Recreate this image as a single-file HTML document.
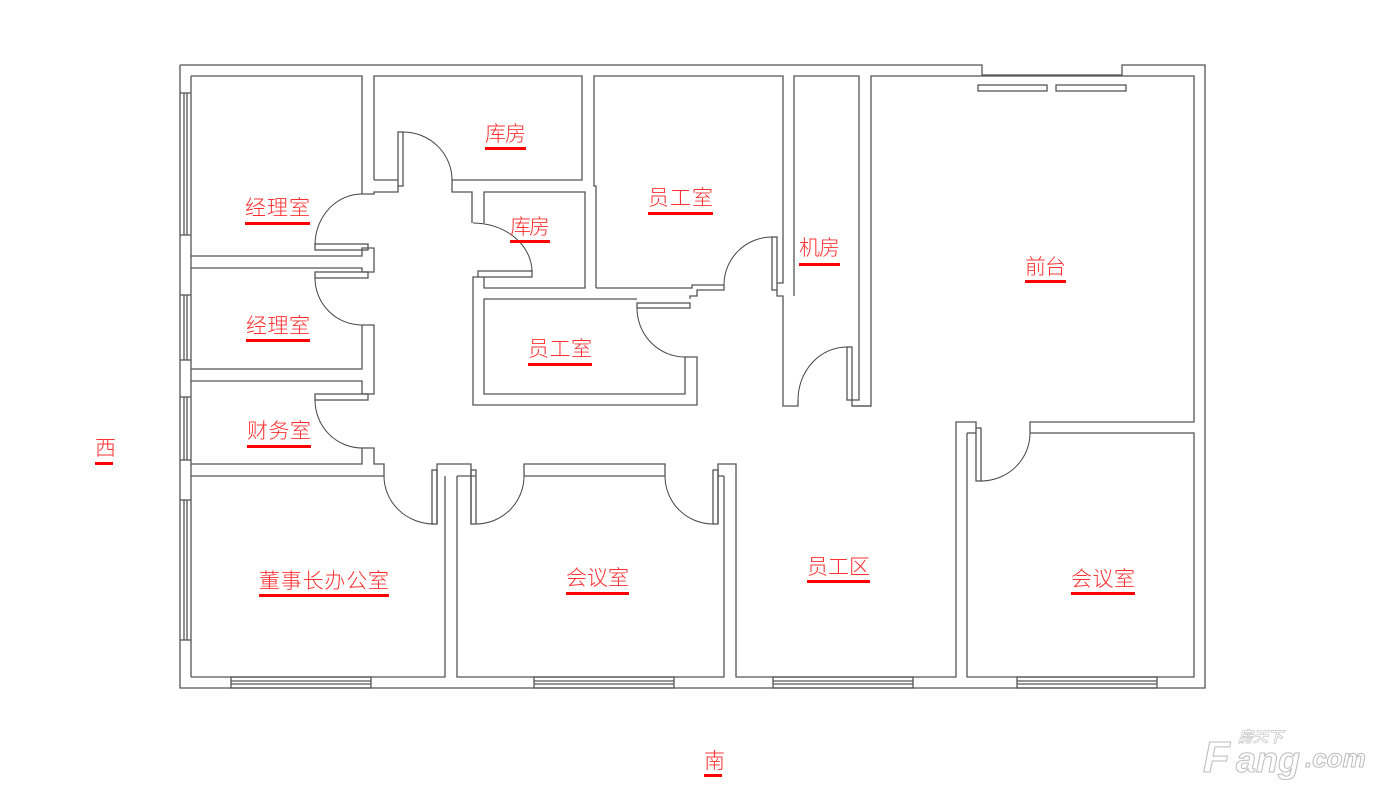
<!DOCTYPE html>
<html><head><meta charset="utf-8"><style>
html,body{margin:0;padding:0;background:#fff;}
svg{display:block;}
.w{fill:none;stroke:#555;stroke-width:1.3;}
.a{fill:none;stroke:#444;stroke-width:1;}
.t{font-family:"Liberation Sans","Noto Sans CJK SC",sans-serif;font-size:21px;fill:#ff3030;font-weight:300;}
.u{fill:#f00;}
</style></head><body>
<svg width="1400" height="793" viewBox="0 0 1400 793" xmlns="http://www.w3.org/2000/svg">
<polyline class="w" points="180,65 982,65 982,75 1122,75 1122,65 1205,65 1205,688 180,688 180,65"/>
<g class="w">
<line x1="191" y1="76" x2="191" y2="677"/>
<line x1="184" y1="93" x2="184" y2="235"/><line x1="187" y1="93" x2="187" y2="235"/>
<line x1="180" y1="93" x2="191" y2="93"/><line x1="180" y1="235" x2="191" y2="235"/>
<line x1="184" y1="295" x2="184" y2="360"/><line x1="187" y1="295" x2="187" y2="360"/>
<line x1="180" y1="295" x2="191" y2="295"/><line x1="180" y1="360" x2="191" y2="360"/>
<line x1="184" y1="397" x2="184" y2="460"/><line x1="187" y1="397" x2="187" y2="460"/>
<line x1="180" y1="397" x2="191" y2="397"/><line x1="180" y1="460" x2="191" y2="460"/>
<line x1="184" y1="500" x2="184" y2="640"/><line x1="187" y1="500" x2="187" y2="640"/>
<line x1="180" y1="500" x2="191" y2="500"/><line x1="180" y1="640" x2="191" y2="640"/>
</g>
<g class="w">
<rect x="231" y="677" width="140" height="11"/><line x1="231" y1="681" x2="371" y2="681"/><line x1="231" y1="684" x2="371" y2="684"/>
<rect x="534" y="677" width="140" height="11"/><line x1="534" y1="681" x2="674" y2="681"/><line x1="534" y1="684" x2="674" y2="684"/>
<rect x="773" y="677" width="140" height="11"/><line x1="773" y1="681" x2="913" y2="681"/><line x1="773" y1="684" x2="913" y2="684"/>
<rect x="1017" y="677" width="140" height="11"/><line x1="1017" y1="681" x2="1157" y2="681"/><line x1="1017" y1="684" x2="1157" y2="684"/>
</g>
<g class="w">
<polyline points="191,76 362,76 362,194 374,194 374,192 398,192 398,186"/>
<polyline points="191,256 362,256 362,250"/>
<polyline points="191,268 362,268 362,272"/>
<polyline points="362,250 362,248 374,248 374,272 362,272"/>
<rect x="315" y="244" width="53" height="6"/>
<rect x="315" y="272" width="53" height="6"/>
<polyline points="362,325 362,369 191,369"/>
<polyline points="362,325 374,325 374,394 362,394"/>
<polyline points="191,381 362,381 362,394"/>
<rect x="315" y="394" width="53" height="6"/>
<polyline points="191,464 362,464 362,448 374,448 374,464 384,464 384,476 191,476"/>
<polyline points="437,524 437,464 471,464 471,524"/>
<rect x="432" y="470" width="5" height="54"/>
<polyline points="445,476 445,677 191,677"/>
<rect x="471" y="470" width="5" height="54"/>
<polyline points="457,476 457,677 724,677 724,476"/>
<polyline points="476,476 457,476"/><polyline points="718,476 724,476"/>
<polyline points="524,476 524,464 665,464 665,476 524,476"/>
<rect x="713" y="470" width="5" height="54"/>
<polyline points="718,524 718,464 736,464 736,677 956,677 956,422 976,422 976,428"/>
<rect x="976" y="428" width="5" height="53"/>
<polyline points="967,481 967,677 1194,677 1194,433 1030,433 1030,422 1194,422 1194,76 871,76 871,406 852,406 852,400"/>
<polyline points="967,433 967,481"/><polyline points="967,433 976,433"/>
</g>
<g class="w">
<polyline points="374,180 374,76 582,76 582,180 452,180 452,192 472,192 472,223"/>
<polyline points="374,180 398,180"/>
<rect x="398" y="132" width="5" height="54"/>
<polyline points="484,223 484,192 585,192 585,288 484,288 484,277"/>
<rect x="478" y="271" width="54" height="6"/>
<polyline points="478,277 473,277 473,405 697,405 697,357 685,357 685,394 484,394 484,299 637,299"/>
<rect x="637" y="303" width="53" height="5"/>
<polyline points="690,299 690,296 697,296 697,290 724,290 724,285"/>
<polyline points="596,288 692,288 692,285 724,285"/>
<polyline points="596,288 596,186 594,186 594,76 783,76 783,283 777,283"/>
<rect x="772" y="237" width="5" height="53"/>
<polyline points="777,290 777,296 783,296 783,406 798,406 798,400"/>
<polyline points="794,296 794,76 859,76 859,400 852,400"/>
<rect x="847" y="347" width="5" height="53"/>
<polyline points="852,406 871,406"/>
<rect x="978" y="85" width="69" height="6"/>
<rect x="1056" y="85" width="70" height="6"/>
</g>
<g class="a">
<path d="M315,245 A47,51 0 0 1 362,194"/>
<path d="M315,278 A47,47 0 0 0 362,325"/>
<path d="M315,400 A47,48 0 0 0 362,448"/>
<path d="M384,476 A50,48 0 0 0 434,524"/>
<path d="M476,524 A48,48 0 0 0 524,476"/>
<path d="M665,476 A48,48 0 0 0 713,524"/>
<path d="M981,481 A49,48 0 0 0 1030,433"/>
<path d="M403,132 A49,48 0 0 1 452,180"/>
<path d="M473,223 A59,49 0 0 1 532,272"/>
<path d="M637,308 A48,49 0 0 0 685,357"/>
<path d="M724,285 A48,48 0 0 1 772,237"/>
<path d="M798,400 A49,53 0 0 1 847,347"/>
</g>
<g class="t" lengthAdjust="spacing">
<text x="485" y="141" textLength="41">库房</text>
<text x="245" y="215" textLength="65">经理室</text>
<text x="510" y="234" textLength="40">库房</text>
<text x="648" y="205" textLength="65">员工室</text>
<text x="799" y="255" textLength="41">机房</text>
<text x="1025" y="274" textLength="41">前台</text>
<text x="246" y="333" textLength="64">经理室</text>
<text x="528" y="356" textLength="64">员工室</text>
<text x="247" y="438" textLength="64">财务室</text>
<text x="95" y="455" textLength="18">西</text>
<text x="259" y="588" textLength="130">董事长办公室</text>
<text x="566" y="585" textLength="63">会议室</text>
<text x="807" y="574" textLength="63">员工区</text>
<text x="1071" y="586" textLength="64">会议室</text>
<text x="704" y="768" textLength="18">南</text>
</g>
<g class="u">
<rect x="485" y="147" width="41" height="3"/>
<rect x="245" y="222" width="65" height="3"/>
<rect x="510" y="240" width="40" height="3"/>
<rect x="648" y="212" width="65" height="3"/>
<rect x="799" y="263" width="41" height="3"/>
<rect x="1025" y="280" width="41" height="3"/>
<rect x="246" y="339" width="64" height="3"/>
<rect x="528" y="363" width="64" height="3"/>
<rect x="247" y="445" width="64" height="3"/>
<rect x="95" y="462" width="18" height="3"/>
<rect x="259" y="594" width="130" height="3"/>
<rect x="566" y="592" width="63" height="3"/>
<rect x="807" y="580" width="63" height="3"/>
<rect x="1071" y="592" width="64" height="3"/>
<rect x="704" y="774" width="18" height="3"/>
</g>
<g font-family="Liberation Sans, Noto Sans CJK SC, sans-serif" font-weight="bold" font-style="italic" fill="#fff" stroke="#bbb" stroke-width="1">
<text x="1203" y="772" font-size="44">F</text>
<text x="1236" y="772" font-size="36">ang</text>
<text x="1305" y="767" font-size="26">.com</text>
<text x="1238" y="742" font-size="15" stroke-width="0.6">房天下</text>
</g>
</svg>
</body></html>
